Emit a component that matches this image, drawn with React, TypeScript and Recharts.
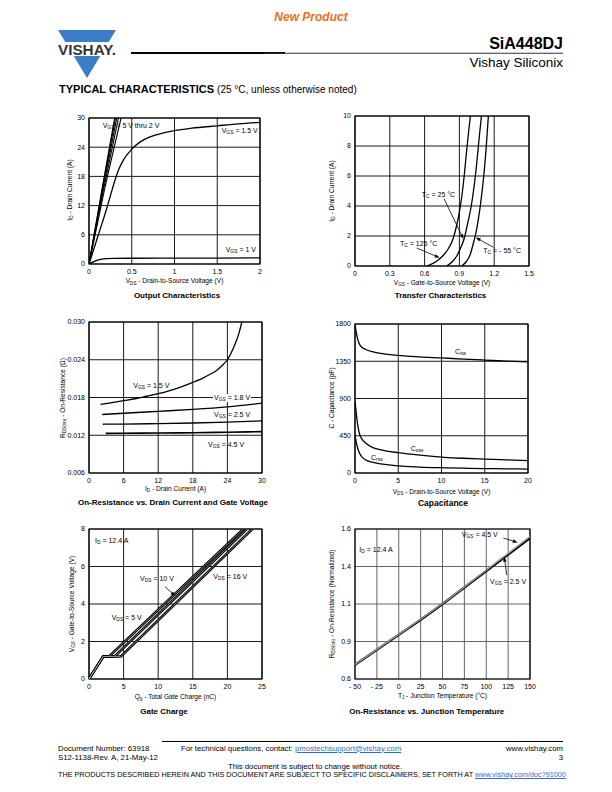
import React from "react";
import {
  LineChart,
  Line,
  XAxis,
  YAxis,
  CartesianGrid,
  ReferenceArea,
  ReferenceLine,
} from "recharts";

const FONT = '"Liberation Sans", Arial, Helvetica, sans-serif';

// ---- Output characteristics ----
const OUT_BUNDLE_Y = [0, 15, 30];
const OUT_VGS5_X = [0, 0.148, 0.3];
const OUT_VGS4_X = [0, 0.152, 0.31];
const OUT_VGS3_X = [0, 0.158, 0.325];
const OUT_VGS25_X = [0, 0.166, 0.345];
const OUT_VGS2_X = [0, 0.178, 0.375];
const OUT_VGS15_X = [0, 0.05, 0.1, 0.15, 0.2, 0.25, 0.3, 0.35, 0.4, 0.5, 0.6, 0.7, 0.8, 1.0, 1.2, 1.5, 1.75, 2];
const OUT_VGS15_Y = [0, 2.7, 5.5, 8.2, 11, 14, 17, 19.5, 21.3, 23.6, 25.1, 26.0, 26.6, 27.4, 27.9, 28.4, 28.8, 29.1];
const OUT_VGS1_X = [0, 0.05, 0.1, 0.15, 0.2, 0.3, 0.5, 1, 1.5, 2];
const OUT_VGS1_Y = [0, 0.45, 0.8, 1.0, 1.1, 1.15, 1.18, 1.2, 1.22, 1.25];
const OUT_X_TICKS = [0, 0.5, 1, 1.5, 2];
const OUT_Y_TICKS = [0, 6, 12, 18, 24, 30];

// ---- Transfer characteristics ----
const TR_125_X = [0.62, 0.7, 0.76, 0.8, 0.84, 0.87, 0.9, 0.92, 0.94, 0.96, 0.98, 0.995];
const TR_125_Y = [0, 0.3, 0.7, 1.1, 1.7, 2.5, 3.6, 4.6, 5.9, 7.5, 9.0, 10];
const TR_25_X = [0.79, 0.84, 0.88, 0.91, 0.94, 0.97, 1.0, 1.03, 1.05, 1.07, 1.09];
const TR_25_Y = [0, 0.3, 0.7, 1.2, 1.8, 2.8, 3.9, 5.5, 6.9, 8.5, 10];
const TR_M55_X = [0.92, 0.96, 0.99, 1.02, 1.05, 1.08, 1.11, 1.13, 1.15];
const TR_M55_Y = [0, 0.3, 0.7, 1.5, 2.5, 4.0, 6.0, 7.8, 10];
const TR_X_TICKS = [0, 0.3, 0.6, 0.9, 1.2, 1.5];
const TR_Y_TICKS = [0, 2, 4, 6, 8, 10];

// ---- On-resistance vs drain current ----
const RON_15_X = [2, 4, 6, 8, 10, 12, 14, 16, 18, 20, 21, 22, 23, 24, 25, 26, 26.5];
const RON_15_Y = [0.0169, 0.0172, 0.0175, 0.0178, 0.0182, 0.0186, 0.0191, 0.0197, 0.0204, 0.0212, 0.0217, 0.0222, 0.023, 0.024, 0.0258, 0.0282, 0.03];
const RON_18_X = [2.3, 6, 12, 18, 24, 30];
const RON_18_Y = [0.0153, 0.0155, 0.0158, 0.0161, 0.0165, 0.0171];
const RON_25_X = [2.4, 6, 12, 18, 24, 30];
const RON_25_Y = [0.01375, 0.01378, 0.01385, 0.01395, 0.0141, 0.0143];
const RON_45_X = [2.9, 6, 12, 18, 24, 30];
const RON_45_Y = [0.0123, 0.01232, 0.01236, 0.0124, 0.01248, 0.01258];
const RON_X_TICKS = [0, 6, 12, 18, 24, 30];
const RON_Y_TICKS = [0.006, 0.012, 0.018, 0.024, 0.03];

// ---- Capacitance ----
const CAP_V = [0, 0.15, 0.3, 0.5, 0.8, 1.2, 2, 3, 5, 7.5, 10, 12.5, 15, 17.5, 20];
const CAP_CISS = [1790, 1700, 1620, 1560, 1520, 1495, 1465, 1445, 1420, 1402, 1390, 1376, 1364, 1352, 1342];
const CAP_COSS = [860, 720, 590, 480, 410, 365, 310, 280, 245, 215, 193, 178, 168, 158, 150];
const CAP_CRSS = [460, 370, 305, 245, 195, 160, 130, 110, 85, 72, 64, 58, 54, 51, 48];
const CAP_X_TICKS = [0, 5, 10, 15, 20];
const CAP_Y_TICKS = [0, 450, 900, 1350, 1800];

// ---- Gate charge ----
const QG_5_X = [0, 2.05, 2.9, 22.3];
const QG_10_X = [0, 2.05, 3.7, 22.8];
const QG_16_X = [0, 2.05, 4.6, 23.6];
const QG_Y = [0, 1.2, 1.2, 8];
const QG_X_TICKS = [0, 5, 10, 15, 20, 25];
const QG_Y_TICKS = [0, 2, 4, 6, 8];

// ---- On-resistance vs junction temperature ----
const RT_T = [-50, -25, 0, 25, 50, 75, 100, 125, 150];
const RT_25 = [0.695, 0.795, 0.895, 0.995, 1.1, 1.21, 1.32, 1.43, 1.54];
const RT_45 = [0.697, 0.798, 0.898, 0.998, 1.103, 1.213, 1.325, 1.437, 1.55];
const RT_X_TICKS = [-50, -25, 0, 25, 50, 75, 100, 125, 150];
const RT_X_LABELS = ["- 50", "- 25", "0", "25", "50", "75", "100", "125", "150"];
const RT_Y_TICKS = [0.6, 0.85, 1.1, 1.35, 1.6];
const RT_Y_LABELS = ["0.6", "0.9", "1.1", "1.4", "1.6"];

const pts = (xs: number[], ys: number[]) => xs.map((x, i) => ({ x, y: ys[i] }));

type Ser = { pts: { x: number; y: number }[]; color?: string; width?: number; curve?: "monotone" | "linear" };

const tickStyle = { fontSize: 7, fill: "#000", fontFamily: FONT };
const AXT = 6.6; // axis title size

function Arrow(p: any) {
  const { x1, y1, x2, y2 } = p;
  const a = Math.atan2(y2 - y1, x2 - x1);
  const L = 5;
  const W = 1.8;
  const bx = x2 - L * Math.cos(a);
  const by = y2 - L * Math.sin(a);
  const tri = `${x2},${y2} ${bx + W * Math.sin(a)},${by - W * Math.cos(a)} ${bx - W * Math.sin(a)},${by + W * Math.cos(a)}`;
  return (
    <g>
      <line x1={x1} y1={y1} x2={bx} y2={by} stroke="#000" strokeWidth={0.8} />
      <polygon points={tri} fill="#000" />
    </g>
  );
}

function Panel(props: {
  left: number;
  top: number;
  w: number;
  h: number;
  xd: [number, number];
  xt: number[];
  yd: [number, number];
  yt: number[];
  fx?: (v: number, i: number) => string;
  fy?: (v: number, i: number) => string;
  series: Ser[];
  grid?: string;
  arrows?: [number, number][][];
}) {
  const { left, top, w, h, xd, xt, yd, yt, fx, fy, series, grid = "#000", arrows = [] } = props;
  return (
    <div style={{ position: "absolute", left: left - 50, top: top - 10 }}>
      <LineChart width={w + 60} height={h + 28} margin={{ top: 10, right: 10, bottom: 0, left: 0 }}>
        <CartesianGrid stroke={grid} strokeWidth={0.9} />
        <XAxis
          type="number"
          dataKey="x"
          domain={xd}
          ticks={xt}
          tickFormatter={fx}
          allowDataOverflow
          interval={0}
          height={18}
          tickSize={0}
          tickMargin={5}
          axisLine={false}
          tick={tickStyle}
        />
        <YAxis
          type="number"
          domain={yd}
          ticks={yt}
          tickFormatter={fy}
          allowDataOverflow
          interval={0}
          width={50}
          tickSize={0}
          tickMargin={4}
          axisLine={false}
          tick={tickStyle}
        />
        <ReferenceArea x1={xd[0]} x2={xd[1]} y1={yd[0]} y2={yd[1]} fill="none" fillOpacity={0} stroke="#000" strokeWidth={1.2} />
        {series.map((s, i) => (
          <Line
            key={i}
            data={s.pts}
            dataKey="y"
            type={s.curve ?? "monotone"}
            stroke={s.color ?? "#000"}
            strokeWidth={s.width ?? 1.3}
            dot={false}
            activeDot={false}
            isAnimationActive={false}
          />
        ))}
        {arrows.map((seg, i) => (
          <ReferenceLine
            key={"a" + i}
            segment={[{ x: seg[0][0], y: seg[0][1] }, { x: seg[1][0], y: seg[1][1] }]}
            shape={Arrow}
            ifOverflow="visible"
          />
        ))}
      </LineChart>
    </div>
  );
}

function Sb({ children }: { children: React.ReactNode }) {
  return <span style={{ fontSize: "70%", position: "relative", top: "0.3em" }}>{children}</span>;
}

function Lbl({ x, y, children, bg }: { x: number; y: number; children: React.ReactNode; bg?: boolean }) {
  return (
    <div
      style={{
        position: "absolute",
        left: x,
        top: y,
        fontSize: 7,
        lineHeight: 1,
        whiteSpace: "nowrap",
        background: bg ? "#fff" : undefined,
        padding: bg ? "0 1px" : undefined,
      }}
    >
      {children}
    </div>
  );
}

function Centered({ x, y, size = AXT, bold, rotate, children }: { x: number; y: number; size?: number; bold?: boolean; rotate?: boolean; children: React.ReactNode }) {
  return (
    <div
      style={{
        position: "absolute",
        left: x,
        top: y,
        transform: `translate(-50%, -50%)${rotate ? " rotate(-90deg)" : ""}`,
        fontSize: size,
        fontWeight: bold ? 700 : 400,
        lineHeight: 1,
        whiteSpace: "nowrap",
      }}
    >
      {children}
    </div>
  );
}

const fmt3 = (v: number) => v.toFixed(3);
const LINK = "#2a6fd6";

export default function App() {
  return (
    <div
      style={{
        position: "absolute",
        left: 0,
        top: 0,
        width: 612,
        height: 792,
        background: "#fff",
        fontFamily: FONT,
        color: "#000",
        overflow: "hidden",
      }}
    >
      {/* header */}
      <Centered x={311} y={17} size={12} bold>
        <span style={{ color: "#f26d21", fontStyle: "italic" }}>New Product</span>
      </Centered>
      <svg style={{ position: "absolute", left: 0, top: 0 }} width={612} height={100}>
        <polygon points="58,30 116,30 87,78" fill="#3b7dc6" />
        <rect x={56} y={42} width={62} height={14} fill="#fff" />
        <text x={58} y={55} fontSize={14} fontWeight={700} fill="#333" fontFamily={FONT} textLength={58} lengthAdjust="spacingAndGlyphs">
          VISHAY.
        </text>
        <line x1={131} y1={53} x2={285} y2={53} stroke="#000" strokeWidth={1.8} />
        <line x1={264} y1={53.3} x2={563} y2={53.3} stroke="#333" strokeWidth={1.1} />
      </svg>
      <div style={{ position: "absolute", right: 49, top: 36, fontSize: 16, fontWeight: 700, lineHeight: 1 }}>SiA448DJ</div>
      <div style={{ position: "absolute", right: 49, top: 56, fontSize: 13.5, lineHeight: 1 }}>Vishay Siliconix</div>
      <div style={{ position: "absolute", left: 59, top: 84, fontSize: 11, lineHeight: 1, whiteSpace: "nowrap" }}>
        <b>TYPICAL CHARACTERISTICS</b> <span style={{ fontSize: 10 }}>(25 °C, unless otherwise noted)</span>
      </div>

      {/* Output characteristics */}
      <Panel
        left={89}
        top={118}
        w={171}
        h={146}
        xd={[0, 2]}
        xt={OUT_X_TICKS}
        yd={[0, 30]}
        yt={OUT_Y_TICKS}
        series={[
          { pts: pts(OUT_VGS5_X, OUT_BUNDLE_Y), width: 1.1, curve: "linear" },
          { pts: pts(OUT_VGS4_X, OUT_BUNDLE_Y), width: 1.1, curve: "linear" },
          { pts: pts(OUT_VGS3_X, OUT_BUNDLE_Y), width: 1.1, curve: "linear" },
          { pts: pts(OUT_VGS25_X, OUT_BUNDLE_Y), width: 1.1, curve: "linear" },
          { pts: pts(OUT_VGS2_X, OUT_BUNDLE_Y), width: 1.1 },
          { pts: pts(OUT_VGS15_X, OUT_VGS15_Y) },
          { pts: pts(OUT_VGS1_X, OUT_VGS1_Y) },
        ]}
      />
      <Lbl x={102.7} y={122}>V<Sb>GS</Sb> = 5 V thru 2 V</Lbl>
      <Lbl x={221.7} y={127}>V<Sb>GS</Sb> = 1.5 V</Lbl>
      <Lbl x={225.7} y={246}>V<Sb>GS</Sb> = 1 V</Lbl>
      <Centered x={70} y={190} rotate>I<Sb>D</Sb> - Drain Current (A)</Centered>
      <Centered x={174.5} y={281.3}>V<Sb>DS</Sb> - Drain-to-Source Voltage (V)</Centered>
      <Centered x={177} y={296.3} size={8} bold>Output Characteristics</Centered>

      {/* Transfer characteristics */}
      <Panel
        left={355}
        top={116}
        w={174}
        h={150}
        xd={[0, 1.5]}
        xt={TR_X_TICKS}
        yd={[0, 10]}
        yt={TR_Y_TICKS}
        series={[
          { pts: pts(TR_125_X, TR_125_Y) },
          { pts: pts(TR_25_X, TR_25_Y) },
          { pts: pts(TR_M55_X, TR_M55_Y) },
        ]}
        arrows={[
          [[0.767, 4.49], [0.935, 1.8]],
          [[0.532, 1.2], [0.73, 0.55]],
          [[1.192, 1.25], [1.04, 1.9]],
        ]}
      />
      <Lbl x={421.7} y={191}>T<Sb>C</Sb> = 25 °C</Lbl>
      <Lbl x={400} y={240}>T<Sb>C</Sb> = 125 °C</Lbl>
      <Lbl x={483.3} y={247}>T<Sb>C</Sb> = - 55 °C</Lbl>
      <Centered x={331.7} y={191} rotate>I<Sb>D</Sb> - Drain Current (A)</Centered>
      <Centered x={442} y={283}>V<Sb>GS</Sb> - Gate-to-Source Voltage (V)</Centered>
      <Centered x={440.5} y={296.3} size={8} bold>Transfer Characteristics</Centered>

      {/* On-resistance vs drain current */}
      <Panel
        left={89}
        top={322}
        w={173}
        h={151}
        xd={[0, 30]}
        xt={RON_X_TICKS}
        yd={[0.006, 0.03]}
        yt={RON_Y_TICKS}
        fy={fmt3}
        series={[
          { pts: pts(RON_15_X, RON_15_Y) },
          { pts: pts(RON_18_X, RON_18_Y) },
          { pts: pts(RON_25_X, RON_25_Y) },
          { pts: pts(RON_45_X, RON_45_Y), width: 1.6 },
        ]}
      />
      <Lbl x={133.3} y={382}>V<Sb>GS</Sb> = 1.5 V</Lbl>
      <Lbl x={213} y={394} bg>V<Sb>GS</Sb> = 1.8 V</Lbl>
      <Lbl x={214} y={411}>V<Sb>GS</Sb> = 2.5 V</Lbl>
      <Lbl x={208} y={441}>V<Sb>GS</Sb> = 4.5 V</Lbl>
      <Centered x={63.3} y={398} rotate>R<Sb>DS(on)</Sb> - On-Resistance (Ω)</Centered>
      <Centered x={175.5} y={489}>I<Sb>D</Sb> - Drain Current (A)</Centered>
      <Centered x={173} y={503.3} size={8} bold>On-Resistance vs. Drain Current and Gate Voltage</Centered>

      {/* Capacitance */}
      <Panel
        left={355}
        top={324}
        w={173}
        h={149}
        xd={[0, 20]}
        xt={CAP_X_TICKS}
        yd={[0, 1800]}
        yt={CAP_Y_TICKS}
        series={[
          { pts: pts(CAP_V, CAP_CISS) },
          { pts: pts(CAP_V, CAP_COSS) },
          { pts: pts(CAP_V, CAP_CRSS) },
        ]}
      />
      <Lbl x={455} y={348}>C<Sb>iss</Sb></Lbl>
      <Lbl x={410.7} y={445}>C<Sb>oss</Sb></Lbl>
      <Lbl x={371} y={454}>C<Sb>rss</Sb></Lbl>
      <Centered x={331.7} y={398} rotate>C - Capacitance (pF)</Centered>
      <Centered x={441.5} y={491.7}>V<Sb>DS</Sb> - Drain-to-Source Voltage (V)</Centered>
      <Centered x={443} y={503.3} size={8.5} bold>Capacitance</Centered>

      {/* Gate charge */}
      <Panel
        left={89}
        top={529}
        w={173}
        h={150}
        xd={[0, 25]}
        xt={QG_X_TICKS}
        yd={[0, 8]}
        yt={QG_Y_TICKS}
        series={[
          { pts: pts(QG_5_X, QG_Y), width: 2.6, curve: "linear" },
          { pts: pts(QG_10_X, QG_Y), width: 2.6, curve: "linear" },
          { pts: pts(QG_16_X, QG_Y), width: 2.6, curve: "linear" },
          { pts: pts(QG_5_X, QG_Y), width: 0.8, color: "#999", curve: "linear" },
          { pts: pts(QG_10_X, QG_Y), width: 0.8, color: "#999", curve: "linear" },
          { pts: pts(QG_16_X, QG_Y), width: 0.8, color: "#999", curve: "linear" },
        ]}
        arrows={[[[10.98, 4.92], [12.5, 4.42]]]}
      />
      <Lbl x={95} y={537}>I<Sb>D</Sb> = 12.4 A</Lbl>
      <Lbl x={140} y={575}>V<Sb>DS</Sb> = 10 V</Lbl>
      <Lbl x={213.3} y={573}>V<Sb>DS</Sb> = 16 V</Lbl>
      <Lbl x={111.7} y={614}>V<Sb>DS</Sb> = 5 V</Lbl>
      <Centered x={71.7} y={604} rotate>V<Sb>GS</Sb> - Gate-to-Source Voltage (V)</Centered>
      <Centered x={175.5} y={696.7}>Q<Sb>g</Sb> - Total Gate Charge (nC)</Centered>
      <Centered x={164} y={711.7} size={8} bold>Gate Charge</Centered>

      {/* On-resistance vs junction temperature */}
      <Panel
        left={355}
        top={529}
        w={175}
        h={150}
        xd={[-50, 150]}
        xt={RT_X_TICKS}
        fx={(_v, i) => RT_X_LABELS[i]}
        yd={[0.6, 1.6]}
        yt={RT_Y_TICKS}
        fy={(_v, i) => RT_Y_LABELS[i]}
        grid="#555"
        series={[
          { pts: pts(RT_T, RT_25), width: 2.4 },
          { pts: pts(RT_T, RT_45), width: 1.4, color: "#9a9a9a" },
        ]}
        arrows={[
          [[119.5, 1.54], [136, 1.51]],
          [[123.4, 1.293], [120.6, 1.415]],
        ]}
      />
      <Lbl x={359.3} y={546}>I<Sb>D</Sb> = 12.4 A</Lbl>
      <Lbl x={461.7} y={531}>V<Sb>GS</Sb> = 4.5 V</Lbl>
      <Lbl x={490} y={578}>V<Sb>GS</Sb> = 2.5 V</Lbl>
      <Centered x={331.7} y={604} rotate>R<Sb>DS(on)</Sb> - On-Resistance (Normalized)</Centered>
      <Centered x={442.5} y={695.7}>T<Sb>J</Sb> - Junction Temperature (°C)</Centered>
      <Centered x={426.7} y={711.7} size={8} bold>On-Resistance vs. Junction Temperature</Centered>

      {/* footer */}
      <svg style={{ position: "absolute", left: 0, top: 735 }} width={612} height={10}>
        <line x1={162} y1={6.5} x2={563} y2={6.5} stroke="#000" strokeWidth={1} />
      </svg>
      <div style={{ position: "absolute", left: 58, top: 743.5, fontSize: 7.8, lineHeight: "9.5px", whiteSpace: "nowrap" }}>
        Document Number: 63918
        <br />
        S12-1138-Rev. A, 21-May-12
      </div>
      <div style={{ position: "absolute", left: 181, top: 743.5, fontSize: 7.8, lineHeight: "9.5px", whiteSpace: "nowrap" }}>
        For technical questions, contact:{" "}
        <span style={{ color: LINK, textDecoration: "underline" }}>pmostechsupport@vishay.com</span>
      </div>
      <div style={{ position: "absolute", right: 49, top: 743.5, fontSize: 7.8, lineHeight: "9.5px", textAlign: "right" }}>
        www.vishay.com
        <br />3
      </div>
      <Centered x={315} y={766.5} size={7.8}>This document is subject to change without notice.</Centered>
      <div style={{ position: "absolute", left: 58, top: 771, fontSize: 7.25, lineHeight: 1, whiteSpace: "nowrap" }}>
        THE PRODUCTS DESCRIBED HEREIN AND THIS DOCUMENT ARE SUBJECT TO SPECIFIC DISCLAIMERS, SET FORTH AT{" "}
        <span style={{ color: LINK, textDecoration: "underline" }}>www.vishay.com/doc?91000</span>
      </div>
    </div>
  );
}
